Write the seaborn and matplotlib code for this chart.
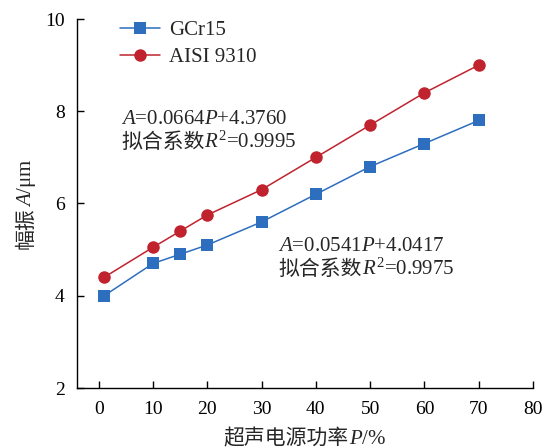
"""Amplitude vs. ultrasonic power for GCr15 and AISI 9310."""

import matplotlib

matplotlib.use("Agg")
import matplotlib.pyplot as plt
import matplotlib.transforms as mtransforms
import pandas as pd
import seaborn as sb

# Data
power = [1, 10, 15, 20, 30, 40, 50, 60, 70]
amp_gcr15 = [4.0, 4.7, 4.9, 5.1, 5.6, 6.2, 6.8, 7.3, 7.8]
amp_aisi = [4.4, 5.05, 5.4, 5.75, 6.3, 7.0, 7.7, 8.4, 9.0]
materials = ["GCr15", "AISI 9310"]
colors = ["#2e6ebe", "#c0232e"]
x_ticks = [0, 10, 20, 30, 40, 50, 60, 70, 80]
y_ticks = [2, 4, 6, 8, 10]

sb.set_style("ticks")
plt.rcParams["font.family"] = ["Liberation Serif", "Noto Sans CJK SC"]
plt.rcParams["mathtext.fontset"] = "custom"
plt.rcParams["mathtext.rm"] = "Liberation Serif"
plt.rcParams["mathtext.it"] = "Liberation Serif:italic"

df = pd.DataFrame(
    {
        "P": power * 2,
        "A": amp_gcr15 + amp_aisi,
        "material": [materials[0]] * len(power) + [materials[1]] * len(power),
    }
)

W, H = 553, 448
fig = plt.figure(figsize=(W / 100, H / 100), dpi=100)
ax = fig.add_axes([77 / W, 60 / H, (533 - 77) / W, (388 - 19) / H])

sb.lineplot(
    data=df,
    x="P",
    y="A",
    hue="material",
    style="material",
    hue_order=materials,
    style_order=materials,
    palette=colors,
    markers=["s", "o"],
    dashes=False,
    markersize=8,
    markeredgewidth=0,
    linewidth=1.1,
    ax=ax,
)
# circles look a bit larger than the squares in the original
ax.lines[1].set_markersize(9)

ax.set_xlim(-4, 80)
ax.set_ylim(2, 10)
ax.set_xticks(x_ticks)
ax.set_yticks(y_ticks)
ax.tick_params(direction="in", length=5, width=1, labelsize=14, pad=9, colors="black")
for side in ["top", "right"]:
    ax.spines[side].set_visible(False)
for side in ["left", "bottom"]:
    ax.spines[side].set_linewidth(1)
    ax.spines[side].set_color("black")
ax.set_xlabel("")
ax.set_ylabel("")

leg = ax.legend(
    loc="upper left",
    bbox_to_anchor=(0.094, 0.995),
    frameon=False,
    fontsize=15,
    handlelength=1.95,
    handletextpad=0.4,
    labelspacing=0.35,
    borderpad=0,
    borderaxespad=0,
)
for h in leg.legend_handles:
    h.set_markersize(9)

IDENT = mtransforms.IdentityTransform()


def chain_text(px, py, pieces, size, rotation=0, center=False):
    """Place text pieces one after another, starting at pixel (px, py)."""
    renderer = fig.canvas.get_renderer()
    texts = []
    cur = px if rotation == 0 else py
    for s in pieces:
        if rotation == 0:
            t = fig.text(cur, py, s, transform=IDENT, fontsize=size, ha="left", va="baseline")
            cur = t.get_window_extent(renderer).x1
        else:
            t = fig.text(px, cur, s, transform=IDENT, fontsize=size, rotation=90,
                         ha="center", va="bottom")
            cur = t.get_window_extent(renderer).y1
        texts.append(t)
    if center:
        start = px if rotation == 0 else py
        shift = (cur - start) / 2
        for t in texts:
            x, y = t.get_position()
            if rotation == 0:
                t.set_position((x - shift, y))
            else:
                t.set_position((x, y - shift))
    return texts


# fitted equations (pixel positions measured from top-left)
chain_text(121, H - 124, [r"$A$=0.0664$P$+4.3760"], 15)
chain_text(121, H - 148, ["拟合系数", r"$R^2$=0.9995"], 15)
chain_text(278, H - 251, [r"$A$=0.0541$P$+4.0417"], 15)
chain_text(278, H - 275, ["拟合系数", r"$R^2$=0.9975"], 15)

# axis labels
chain_text(305, 4, ["超声电源功率", r"$P$/%"], 15, center=True)
chain_text(27, H - 204, ["幅振", r"$A$/μm"], 15, rotation=90, center=True)

fig.savefig("out.png", dpi=100)
plt.close(fig)
